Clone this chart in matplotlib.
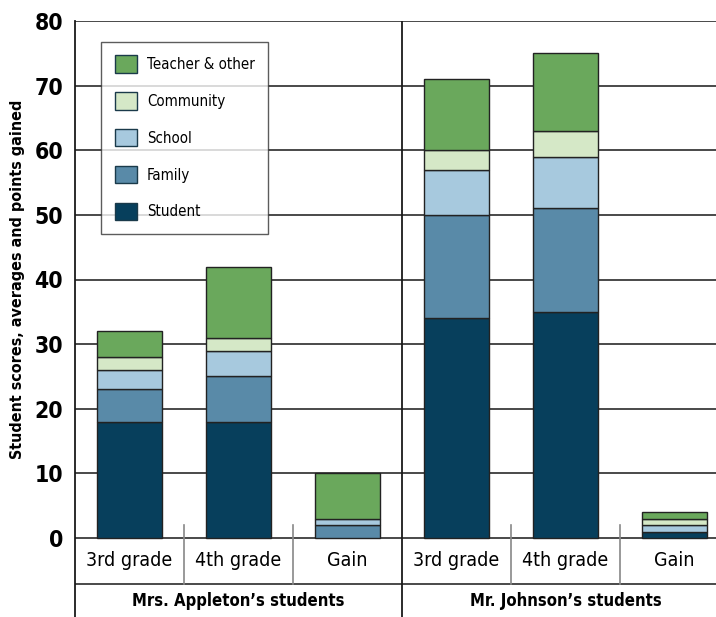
import numpy as np
import matplotlib.pyplot as plt
from matplotlib.patches import Patch

plt.rcParams['font.family'] = ['DejaVu Sans']
plt.rcParams['font.stretch'] = 'condensed'

categories = ['3rd grade', '4th grade', 'Gain', '3rd grade', '4th grade', 'Gain']
groups = ["Mrs. Appleton\u2019s students", "Mr. Johnson\u2019s students"]
series = ['Student', 'Family', 'School', 'Community', 'Teacher & other']
student = [18, 18, 0, 34, 35, 1]
family = [5, 7, 2, 16, 16, 0]
school = [3, 4, 1, 7, 8, 1]
community = [2, 2, 0, 3, 4, 1]
teacher = [4, 11, 7, 11, 12, 1]
colors = ['#073f5c', '#598aa8', '#a7c9de', '#d5e8c7', '#6aa85c']

values = [student, family, school, community, teacher]

fig = plt.figure(figsize=(7.16, 6.17), dpi=100)
# axes runs from x=75px, past the right edge like the original
ax = fig.add_axes([75/716, 0, 641/716, 596/617])
ymin = -79/6.4625
ax.set_ylim(ymin, 80)
ax.set_xlim(-0.5, -0.5 + 641/109)

x = np.arange(len(categories))
bottom = np.zeros(len(categories))
for vals, col in zip(values, colors):
    vals = np.array(vals, dtype=float)
    mask = vals > 0
    ax.bar(x[mask], vals[mask], bottom=bottom[mask], width=0.6, color=col,
           edgecolor='#222222', linewidth=1, zorder=3)
    bottom += vals

# grid lines
for yv in range(0, 81, 10):
    ax.axhline(yv, color='#2a2a2a', lw=1.2, zorder=1)
row1 = -46/6.4625
ax.axhline(row1, color='#2a2a2a', lw=1.2, zorder=1)
ax.plot([2.5, 2.5], [ymin, 80], color='#1a1a1a', lw=1.3, zorder=4)
for xs in [0.5, 1.5, 3.5, 4.5]:
    ax.plot([xs, xs], [row1, 2], color='#888888', lw=1.2, zorder=2)

for spine in ['top', 'right', 'bottom']:
    ax.spines[spine].set_visible(False)
ax.spines['left'].set_color('#1a1a1a')
ax.spines['left'].set_linewidth(1.3)

ax.set_xticks([])
ax.set_yticks(range(0, 81, 10))
ax.tick_params(axis='y', length=0, pad=8.5, labelsize=16.5)
for t in ax.get_yticklabels():
    t.set_fontweight('bold')

for xi, c in zip(x, categories):
    ax.text(xi, row1 / 2, c, ha='center', va='center', fontsize=14)
for gi, g in enumerate(groups):
    ax.text(1 + 3*gi, (row1 + ymin) / 2, g, ha='center', va='center',
            fontsize=12, fontweight='bold')

fig.text(18/716, 1 - 279/617, 'Student scores, averages and points gained',
         rotation=90, ha='center', va='center', fontsize=11.5, fontweight='bold')

handles = [Patch(facecolor=c, edgecolor='#1a3a4a', linewidth=1) for c in colors][::-1]
leg = ax.legend(handles, series[::-1], loc='upper left',
                bbox_to_anchor=((101-75)/641, 1 - 21/596), fontsize=10.8,
                frameon=True, fancybox=False, handlelength=1.5, handleheight=1.4,
                labelspacing=1.3, borderpad=0.9, handletextpad=0.65,
                borderaxespad=0)
leg.get_frame().set_edgecolor('#333333')
leg.get_frame().set_linewidth(1)
leg.set_zorder(5)

fig.savefig('out.png', dpi=100)
